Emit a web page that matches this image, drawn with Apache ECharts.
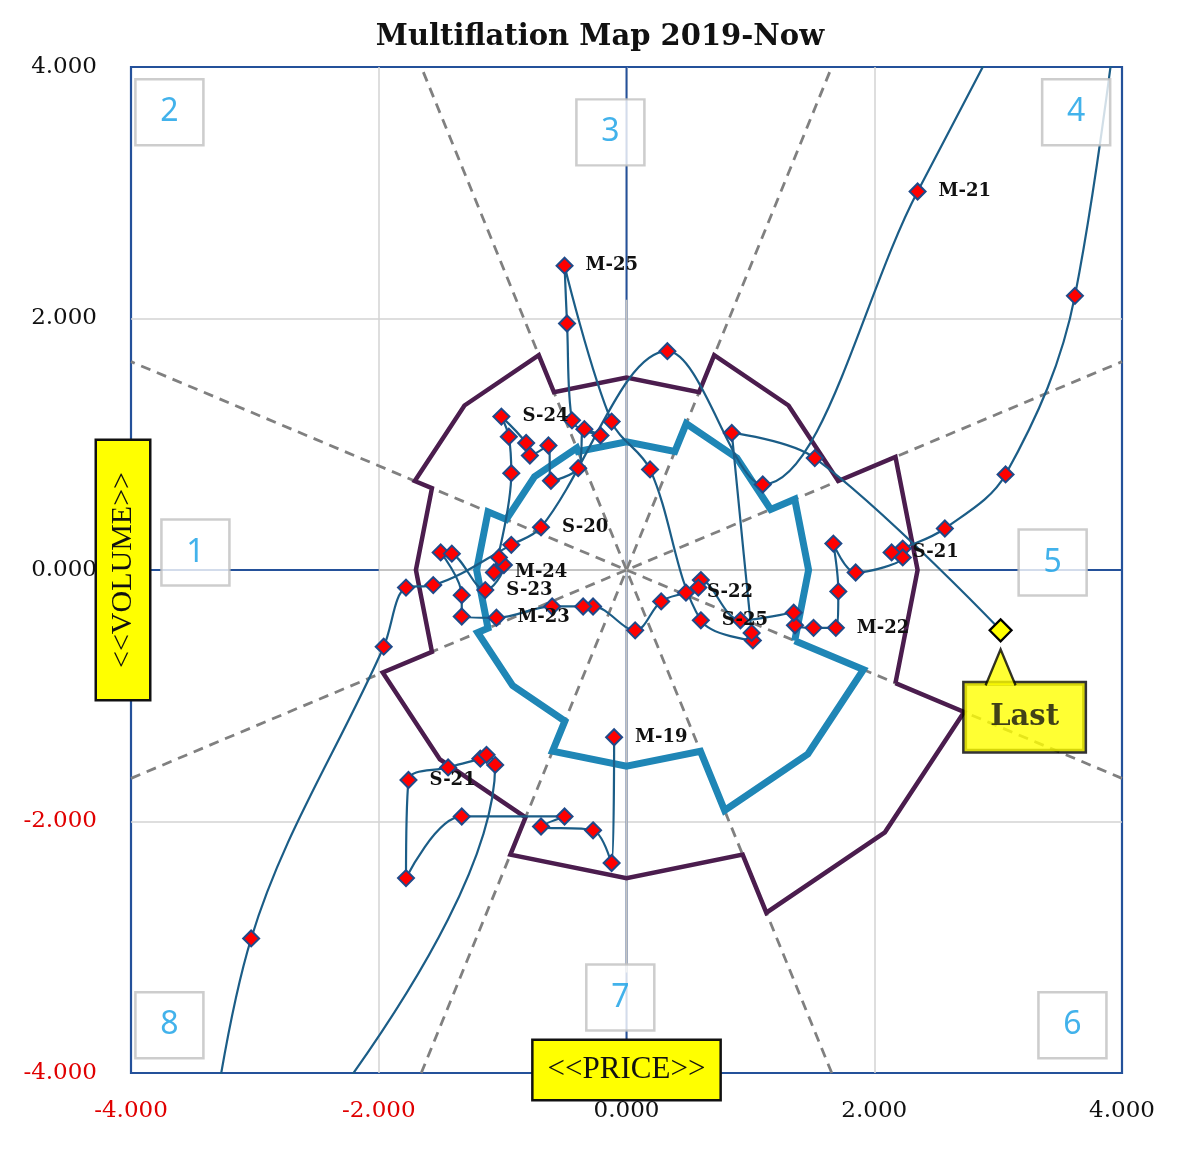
<!DOCTYPE html>
<html><head><meta charset="utf-8">
<script src="https://cdn.jsdelivr.net/npm/echarts@6/dist/echarts.min.js"></script>
<style>html,body{margin:0;padding:0;background:#fff;} #c{width:1200px;height:1154px;}</style>
</head><body><div id="c"></div>
<script>
// ---- data ----
const priceX = [-0.10,-0.12,-0.27,-0.69,-0.50,-1.33,-1.78,-1.76,-1.44,-1.18,
  -1.13,-1.06,-3.50,-3.03,-1.96,-1.78,-1.56,-0.93,-0.69,0.33,
  1.10,2.35,4.20,3.62,3.06,2.57,2.23,2.14,2.23,1.85,
  1.67,1.71,1.69,1.51,1.36,1.35,0.92,0.60,0.58,0.48,
  0.28,0.07,-0.27,-0.35,-0.60,-1.05,-1.33,-1.33,-1.50,-1.41,
  -1.14,-0.99,-1.03,-1.07,-0.93,-0.95,-1.01,-0.81,-0.78,-0.63,
  -0.61,-0.39,-0.34,-0.21,-0.44,-0.48,-0.50,-0.12,0.19,0.60,
  1.02,1.01,0.85,1.52,3.02];
const volumeY = [-1.33,-2.33,-2.07,-2.04,-1.96,-1.96,-2.45,-1.67,-1.57,-1.50,
  -1.47,-1.55,-5.60,-2.93,-0.61,-0.14,-0.12,0.20,0.34,1.74,
  0.68,3.01,6.50,2.18,0.76,0.33,0.17,0.14,0.10,-0.02,
  0.21,-0.17,-0.46,-0.46,-0.44,-0.34,-0.40,-0.08,-0.14,-0.18,
  -0.25,-0.48,-0.29,-0.29,-0.29,-0.38,-0.37,-0.20,0.14,0.13,
  -0.16,0.04,0.10,-0.02,0.77,1.06,1.22,1.01,0.91,0.99,
  0.71,0.81,1.12,1.07,1.19,1.96,2.42,1.18,0.80,-0.40,
  -0.56,-0.50,1.09,0.89,-0.48];
const labelIndex = [0,7,18,21,27,32,39,45,50,53,56,66,69];
const labelText  = ['M-19','S-21','S-20','M-21','S-21','M-22','S-22','M-23','S-23','M-24','S-24','M-25','S-25'];
const lastText = 'Last';

// octant radii, octants 1..8 (1 = west, 3 = north, 5 = east, 7 = south)
const octantCenters = [180,135,90,45,0,315,270,225];
const outerRadius = [1.70,1.85,1.53,1.85,2.35,2.95,2.45,2.13];
const innerRadius = [1.21,1.05,1.02,1.26,1.47,2.07,1.56,1.30];
const boundaryAngles = [22.5,67.5,112.5,157.5];

const sectorNumbers = ['1','2','3','4','5','6','7','8'];
const sectorBoxX = [-3.48,-3.69,-0.13,3.63,3.44,3.60,-0.05,-3.69];
const sectorBoxY = [0.14,3.64,3.48,3.64,0.06,-3.62,-3.40,-3.62];

const axisMin = -4, axisMax = 4, axisStep = 2;
const crossArms = {left:2.0, right:2.6, down:3.2, up:2.15};

// ---- build ----
const toRad = d => d*Math.PI/180;
function polygon(radii){
  const order=[4,3,2,1,0,7,6,5], pts=[];
  order.forEach(k=>{const c=octantCenters[k], r=radii[k];
    [c-22.5,c,c+22.5].forEach(a=>pts.push([r*Math.cos(toRad(a)), r*Math.sin(toRad(a))]));});
  pts.push(pts[0]); return pts;
}
const dashed = boundaryAngles.map(a=>{const c=Math.cos(toRad(a)), s=Math.sin(toRad(a));
  const m=axisMax/Math.max(Math.abs(c),Math.abs(s)); return [[-m*c,-m*s],[m*c,m*s]];});

const labelMap = {}; labelIndex.forEach((k,i)=>labelMap[k]=labelText[i]);
const lastIdx = priceX.length-1;
const pathData = priceX.map((x,i)=>{
  const item = {value:[x, volumeY[i]]};
  if (labelMap[i]) item.label = {show:true, formatter: labelMap[i]};
  if (i===lastIdx) { item.symbolSize = 22; item.itemStyle = {color:'#ffff00', borderColor:'#000', borderWidth:2.2}; }
  return item;
});

const serif = 'DejaVu Serif';
const frameColor = '#24519a';
const lineBase = {type:'line', symbol:'none', silent:true, animation:false};
const series = [];
series.push(Object.assign({}, lineBase, {data:[[axisMin,0],[axisMax,0]], lineStyle:{color:frameColor, width:2}, z:1}));
series.push(Object.assign({}, lineBase, {data:[[0,axisMin],[0,axisMax]], lineStyle:{color:frameColor, width:2}, z:1}));
series.push(Object.assign({}, lineBase, {data:[[-crossArms.left,0],[crossArms.right,0]], lineStyle:{color:'#c4c4c4', width:2}, z:2}));
series.push(Object.assign({}, lineBase, {data:[[0,-crossArms.down],[0,crossArms.up]], lineStyle:{color:'#c4c4c4', width:2}, z:2}));
dashed.forEach(d=>series.push(Object.assign({}, lineBase, {data:d, lineStyle:{color:'#808080', width:2.8, type:[10,7]}, z:3})));
series.push(Object.assign({}, lineBase, {data:polygon(outerRadius), lineStyle:{color:'#4b1d4e', width:4.5, join:'miter'}, z:4}));
series.push(Object.assign({}, lineBase, {data:polygon(innerRadius), lineStyle:{color:'#1f86b6', width:7, join:'miter'}, z:4}));
series.push({type:'line', data:pathData, smooth:0.35, symbol:'diamond', symbolSize:16, animation:false,
  lineStyle:{color:'#1b5d87', width:2.2}, itemStyle:{color:'#ff0000', borderColor:'#1f4a8a', borderWidth:2},
  label:{show:false, position:'right', distance:12, fontFamily:serif, fontWeight:'bold', fontSize:18, color:'#111'},
  z:5});
series.push({type:'scatter', clip:false, silent:true, animation:false,
  data: sectorBoxX.map((x,i)=>[x, sectorBoxY[i], sectorNumbers[i]]),
  symbol:'rect', symbolSize:[68,66], itemStyle:{color:'#fff', borderColor:'#c0c0c0', borderWidth:2.5},
  label:{show:true, position:'inside', formatter:p=>p.data[2], color:'#139fe6', fontSize:32, fontFamily:'Noto Sans'}, z:7});
series.push({type:'scatter', clip:false, silent:true, animation:false,
  data:[[priceX[lastIdx], volumeY[lastIdx]]], symbolSize:1, itemStyle:{color:'rgba(0,0,0,0)'},
  label:{show:true, position:'inside', offset:[24,87], formatter:lastText, fontFamily:serif, fontWeight:'bold', fontSize:29, color:'#111',
    backgroundColor:'#ffff00', borderColor:'#000', borderWidth:2.5, width:76, height:40, lineHeight:40, padding:[14,22], align:'center', verticalAlign:'middle'}, z:8});
series.push({type:'scatter', clip:false, silent:true, animation:false,
  data:[[priceX[lastIdx], volumeY[lastIdx]]], symbol:'path://M0,36 L15,0 L30,36', symbolKeepAspect:false, symbolSize:[30,36], symbolOffset:[0,37],
  itemStyle:{color:'#ffff00', borderColor:'#000', borderWidth:2.5}, z:9});

const tickColor = v => v < 0 ? '#e00000' : '#111';
const option = {
  animation:false,
  backgroundColor:'#fff',
  title:{text:'Multiflation Map 2019-Now', left:'center', top:18, textStyle:{fontFamily:serif, fontWeight:'bold', fontSize:29, color:'#111'}},
  grid:{left:131, top:67, right:78, bottom:81, show:true, borderColor:frameColor, borderWidth:2.2, backgroundColor:'transparent'},
  xAxis:[
    {type:'value', min:axisMin, max:axisMax, interval:axisStep, axisLine:{show:false}, axisTick:{show:false},
     splitLine:{show:true, showMinLine:false, showMaxLine:false, lineStyle:{color:'#d3d3d3', width:1.5}},
     axisLabel:{formatter:v=>v.toFixed(3), color:tickColor, fontFamily:serif, fontSize:23, margin:27}},
    {type:'value', min:axisMin, max:axisMax, position:'bottom', z:10, axisLine:{show:false}, axisTick:{show:false}, splitLine:{show:false}, axisLabel:{show:false},
     name:'<<PRICE>>', nameLocation:'middle', nameGap:-3,
     nameTextStyle:{fontFamily:'Liberation Serif', fontSize:31, color:'#111', backgroundColor:'#ffff00', borderColor:'#111', borderWidth:2.5, padding:[14,14], verticalAlign:'middle', lineHeight:30}}
  ],
  yAxis:[
    {type:'value', min:axisMin, max:axisMax, interval:axisStep, axisLine:{show:false}, axisTick:{show:false},
     splitLine:{show:true, showMinLine:false, showMaxLine:false, lineStyle:{color:'#d3d3d3', width:1.5}},
     axisLabel:{formatter:v=>v.toFixed(3), color:tickColor, fontFamily:serif, fontSize:23, margin:34}},
    {type:'value', min:axisMin, max:axisMax, position:'left', z:10, axisLine:{show:false}, axisTick:{show:false}, splitLine:{show:false}, axisLabel:{show:false},
     name:'<<VOLUME>>', nameLocation:'middle', nameGap:8, nameRotate:90,
     nameTextStyle:{fontFamily:'Liberation Serif', fontSize:30, color:'#111', backgroundColor:'#ffff00', borderColor:'#111', borderWidth:2.5, padding:[11,31], verticalAlign:'middle', lineHeight:30}}
  ],
  series: series
};
const chart = echarts.init(document.getElementById('c'));
chart.setOption(option);
</script>
</body></html>
